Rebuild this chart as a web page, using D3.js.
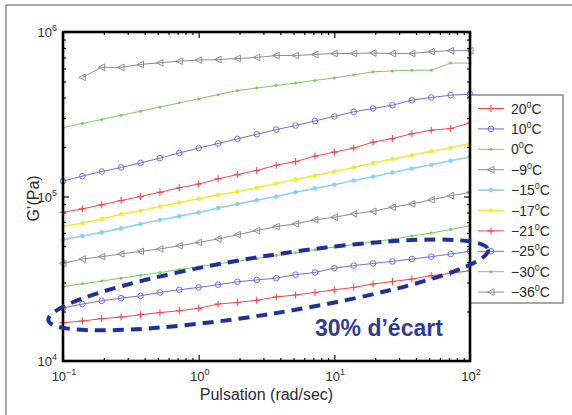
<!DOCTYPE html>
<html>
<head>
<meta charset="utf-8">
<script src="https://cdn.jsdelivr.net/npm/d3@7"></script>
<style>
  body { margin: 0; background: #fff; }
  text { font-family: "Liberation Sans", Arial, sans-serif; fill: #2b2b2b; }
</style>
</head>
<body>
<svg id="chart" width="572" height="415"></svg>
<script>
// frequencies (rad/s), 7 points per decade
const pulsation = [0.1, 0.139, 0.193, 0.268, 0.373, 0.518, 0.72, 1, 1.39, 1.93, 2.68,
  3.73, 5.18, 7.2, 10, 13.9, 19.3, 26.8, 37.3, 51.8, 72, 100];

// G' (Pa), one array per temperature
const g20 = [1.71e4, 1.75e4, 1.81e4, 1.85e4, 1.91e4, 1.97e4, 2.02e4, 2.09e4, 2.22e4, 2.27e4, 2.34e4,
  2.45e4, 2.52e4, 2.61e4, 2.71e4, 2.80e4, 2.94e4, 3.04e4, 3.15e4, 3.30e4, 3.41e4, 3.54e4];
const g10 = [2.1e4, 2.22e4, 2.32e4, 2.41e4, 2.49e4, 2.61e4, 2.71e4, 2.80e4, 2.91e4, 3.03e4, 3.11e4,
  3.19e4, 3.35e4, 3.45e4, 3.67e4, 3.80e4, 3.92e4, 4.03e4, 4.17e4, 4.31e4, 4.47e4, 4.64e4];
const g0 = [2.83e4, 2.95e4, 3.06e4, 3.19e4, 3.32e4, 3.45e4, 3.6e4, 3.74e4, 3.9e4, 4.05e4, 4.2e4,
  4.38e4, 4.55e4, 4.75e4, 4.93e4, 5.1e4, 5.3e4, 5.5e4, 5.75e4, 6.0e4, 6.3e4, 6.65e4];
const gm9 = [3.92e4, 4.17e4, 4.31e4, 4.47e4, 4.64e4, 4.80e4, 5.02e4, 5.26e4, 5.52e4, 5.86e4, 6.20e4,
  6.56e4, 6.82e4, 7.21e4, 7.48e4, 7.84e4, 8.13e4, 8.61e4, 9.02e4, 9.55e4, 1.01e5, 1.06e5];
const gm15 = [5.45e4, 5.75e4, 6.05e4, 6.4e4, 6.8e4, 7.2e4, 7.6e4, 8.0e4, 8.5e4, 9.0e4, 9.5e4,
  1.0e5, 1.06e5, 1.12e5, 1.18e5, 1.25e5, 1.32e5, 1.4e5, 1.48e5, 1.56e5, 1.65e5, 1.74e5];
const gm17 = [6.6e4, 6.9e4, 7.3e4, 7.8e4, 8.2e4, 8.7e4, 9.2e4, 9.7e4, 1.02e5, 1.07e5, 1.13e5,
  1.2e5, 1.27e5, 1.34e5, 1.42e5, 1.5e5, 1.6e5, 1.69e5, 1.78e5, 1.88e5, 1.98e5, 2.1e5];
const gm21 = [8.02e4, 8.41e4, 8.9e4, 9.45e4, 1.0e5, 1.06e5, 1.13e5, 1.19e5, 1.28e5, 1.36e5, 1.44e5,
  1.55e5, 1.63e5, 1.76e5, 1.86e5, 1.97e5, 2.14e5, 2.25e5, 2.41e5, 2.53e5, 2.59e5, 2.8e5];
const gm25 = [1.24e5, 1.33e5, 1.42e5, 1.5e5, 1.6e5, 1.71e5, 1.84e5, 1.97e5, 2.1e5, 2.24e5, 2.39e5,
  2.55e5, 2.7e5, 2.88e5, 3.07e5, 3.27e5, 3.43e5, 3.59e5, 3.85e5, 4.0e5, 4.13e5, 4.19e5];
const gm30 = [2.62e5, 2.78e5, 2.94e5, 3.12e5, 3.3e5, 3.5e5, 3.71e5, 3.93e5, 4.16e5, 4.41e5, 4.56e5,
  4.73e5, 4.89e5, 5.08e5, 5.26e5, 5.49e5, 5.73e5, 5.8e5, 5.86e5, 5.86e5, 6.47e5, 6.47e5];
const gm36 = [null, 5.3e5, 6.1e5, 6.1e5, 6.35e5, 6.5e5, 6.65e5, 6.75e5, 6.8e5, 6.9e5, 7.0e5,
  7.2e5, 7.2e5, 7.3e5, 7.4e5, 7.4e5, 7.45e5, 7.4e5, 7.4e5, 7.6e5, 7.7e5, 7.7e5];

const temperatures = ['20', '10', '0', '\u22129', '\u221215', '\u221217', '\u221221', '\u221225', '\u221230', '\u221236'];
const seriesValues = [g20, g10, g0, gm9, gm15, gm17, gm21, gm25, gm30, gm36];
const colors = ['#f04848', '#6e6ed8', '#7ec860', '#8c8c8c', '#8ed2ea', '#eeea3c',
  '#f04848', '#6e6ed8', '#7ec860', '#8c8c8c'];
const markers = ['plus', 'circle', 'dot', 'tri', 'bigdot', 'bigdot', 'plus', 'circle', 'dot', 'tri'];

// "30% d'ecart" annotation: ends of the dashed ellipse, in data units
const ecartEnds = [[0.078, 1.77e4], [136, 4.75e4]];

const svg = d3.select('#chart');

// figure frame (scanned page border)
svg.append('rect')
  .attr('x', 6).attr('y', 5)
  .attr('width', 620).attr('height', 450)
  .attr('fill', 'none')
  .attr('stroke', '#8e8e8e')
  .attr('stroke-width', 1.5);

const m = { left: 63, right: 470, top: 32, bottom: 361 };
const x = d3.scaleLog().domain([0.1, 100]).range([m.left, m.right]);
const y = d3.scaleLog().domain([1e4, 1e6]).range([m.bottom, m.top]);

const isMajor = (v) => Math.abs(Math.log10(v) - Math.round(Math.log10(v))) < 1e-6;
const xMinor = x.ticks().filter((v) => !isMajor(v));
const xMajor = x.ticks().filter(isMajor);
const yMinor = y.ticks().filter((v) => !isMajor(v));
const yMajor = y.ticks().filter(isMajor);

const axes = svg.append('g').attr('class', 'axes');
function tickAxis(axisFn, values, size, transform) {
  const g = axes.append('g')
    .attr('transform', transform)
    .call(axisFn.tickValues(values).tickSize(-size).tickFormat(''));
  g.select('.domain').remove();
  g.selectAll('line').attr('stroke', '#111').attr('stroke-width', 1.2);
}
tickAxis(d3.axisBottom(x), xMinor, 3, `translate(0,${m.bottom})`);
tickAxis(d3.axisBottom(x), xMajor, 6, `translate(0,${m.bottom})`);
tickAxis(d3.axisTop(x), xMinor, 3, `translate(0,${m.top})`);
tickAxis(d3.axisTop(x), xMajor, 6, `translate(0,${m.top})`);
tickAxis(d3.axisLeft(y), yMinor, 3, `translate(${m.left},0)`);
tickAxis(d3.axisLeft(y), yMajor, 6, `translate(${m.left},0)`);
tickAxis(d3.axisRight(y), yMinor, 3, `translate(${m.right},0)`);
tickAxis(d3.axisRight(y), yMajor, 6, `translate(${m.right},0)`);

function powLabel(sel, exp) {
  sel.append('tspan').text('10');
  sel.append('tspan').attr('dy', -6).attr('font-size', 9).text(exp);
}

xMajor.forEach((v) => {
  const t = axes.append('text')
    .attr('x', x(v) + 1).attr('y', 381)
    .attr('text-anchor', 'middle')
    .attr('font-size', 13);
  powLabel(t, String(Math.round(Math.log10(v))).replace('-', '\u2212'));
});
yMajor.forEach((v) => {
  const t = axes.append('text')
    .attr('x', 57).attr('y', y(v) + 5)
    .attr('text-anchor', 'end')
    .attr('font-size', 13);
  powLabel(t, String(Math.round(Math.log10(v))));
});

svg.append('text')
  .attr('x', (m.left + m.right) / 2).attr('y', 400)
  .attr('text-anchor', 'middle')
  .attr('font-size', 16)
  .text('Pulsation (rad/sec)');

svg.append('text')
  .attr('transform', `translate(39,${(m.top + m.bottom) / 2 + 2}) rotate(-90)`)
  .attr('text-anchor', 'middle')
  .attr('font-size', 16)
  .text('G\u2019(Pa)');

// marker drawing
function drawMarker(g, type, color) {
  if (type === 'plus') {
    g.append('path').attr('d', 'M-3.5,0H3.5M0,-3.5V3.5')
      .attr('stroke', color).attr('stroke-width', 1.1).attr('fill', 'none');
  } else if (type === 'circle') {
    g.append('circle').attr('r', 2.8)
      .attr('fill', 'none').attr('stroke', color).attr('stroke-width', 1);
  } else if (type === 'tri') {
    g.append('path').attr('d', 'M-3.5,0L3,-3.3L3,3.3Z')
      .attr('fill', 'none').attr('stroke', color).attr('stroke-width', 1);
  } else if (type === 'bigdot') {
    g.append('circle').attr('r', 2.3).attr('fill', color);
  } else {
    g.append('circle').attr('r', 1.5).attr('fill', color);
  }
}

const line = d3.line()
  .defined((d) => d.v != null)
  .x((d) => x(d.f))
  .y((d) => y(d.v));

const plot = svg.append('g').attr('class', 'series');
seriesValues.forEach((vals, i) => {
  const pts = vals.map((v, k) => ({ f: pulsation[k], v: v }));
  const g = plot.append('g');
  g.append('path')
    .datum(pts)
    .attr('d', line)
    .attr('fill', 'none')
    .attr('stroke', colors[i])
    .attr('stroke-width', markers[i] === 'bigdot' ? 1.6 : 1);
  g.selectAll('g.mk')
    .data(pts.filter((d) => d.v != null))
    .join('g')
    .attr('class', 'mk')
    .attr('transform', (d) => `translate(${x(d.f)},${y(d.v)})`)
    .each(function () { drawMarker(d3.select(this), markers[i], colors[i]); });
});

// legend
const leg = svg.append('g').attr('class', 'legend');
leg.append('rect')
  .attr('x', 470).attr('y', 95)
  .attr('width', 93).attr('height', 208)
  .attr('fill', '#fff')
  .attr('stroke', '#8a8a8a')
  .attr('stroke-width', 1.5);
temperatures.forEach((t, i) => {
  const ly = 108.5 + i * 20.4;
  const row = leg.append('g');
  row.append('line')
    .attr('x1', 478).attr('x2', 504).attr('y1', ly).attr('y2', ly)
    .attr('stroke', colors[i])
    .attr('stroke-width', markers[i] === 'bigdot' ? 1.6 : 1);
  drawMarker(row.append('g').attr('transform', `translate(491,${ly})`), markers[i], colors[i]);
  const txt = row.append('text')
    .attr('x', 511).attr('y', ly + 5)
    .attr('font-size', 14);
  txt.append('tspan').text(t);
  txt.append('tspan').attr('dy', -6).attr('font-size', 9).text('0');
  txt.append('tspan').attr('dy', 6).text('C');
});

// plot box, drawn over the legend edge like the original
svg.append('rect')
  .attr('x', m.left).attr('y', m.top)
  .attr('width', m.right - m.left).attr('height', m.bottom - m.top)
  .attr('fill', 'none')
  .attr('stroke', '#000')
  .attr('stroke-width', 2.6);

// dashed ellipse annotation
const p0 = [x(ecartEnds[0][0]), y(ecartEnds[0][1])];
const p1 = [x(ecartEnds[1][0]), y(ecartEnds[1][1])];
const cx = (p0[0] + p1[0]) / 2;
const cy = (p0[1] + p1[1]) / 2;
const rx = Math.hypot(p1[0] - p0[0], p1[1] - p0[1]) / 2;
const angle = Math.atan2(p1[1] - p0[1], p1[0] - p0[0]) * 180 / Math.PI;
svg.append('ellipse')
  .attr('cx', 0).attr('cy', 0)
  .attr('rx', rx).attr('ry', 29)
  .attr('transform', `translate(${cx},${cy}) rotate(${angle})`)
  .attr('fill', 'none')
  .attr('stroke', '#20309a')
  .attr('stroke-width', 4)
  .attr('stroke-dasharray', '11,7');

svg.append('text')
  .attr('x', 315).attr('y', 336)
  .attr('font-size', 23)
  .attr('font-weight', 'bold')
  .style('fill', '#2c3b96')
  .text('30% d\u2019\u00e9cart');
</script>
</body>
</html>
